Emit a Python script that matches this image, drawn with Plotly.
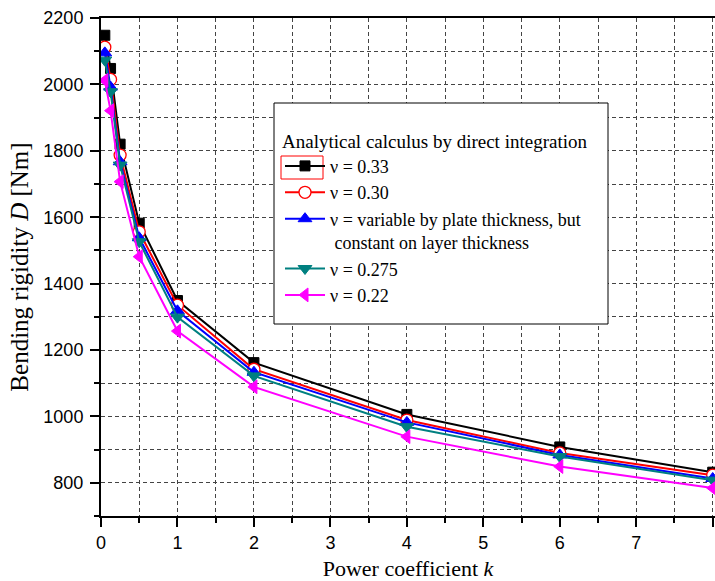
import plotly.graph_objects as go

# ---- data ----
k_values = [0.05, 0.125, 0.25, 0.5, 1, 2, 4, 6, 8]
D_nu_033 = [2148, 2048, 1820, 1582, 1349, 1162, 1006, 908, 832]
D_nu_030 = [2112, 2015, 1787, 1556, 1335, 1142, 989, 890, 823]
D_nu_var = [2095, 1992, 1767, 1538, 1318, 1133, 982, 884, 813]
D_nu_0275 = [2073, 1978, 1757, 1526, 1299, 1122, 969, 879, 808]
D_nu_022 = [2012, 1921, 1707, 1481, 1257, 1089, 939, 849, 784]

series_names = [
    "\u03bd = 0.33",
    "\u03bd = 0.30",
    "\u03bd = variable by plate thickness, but<br>\u00a0constant on layer thickness",
    "\u03bd = 0.275",
    "\u03bd = 0.22",
]
series_values = [D_nu_033, D_nu_030, D_nu_var, D_nu_0275, D_nu_022]
series_colors = ["#000000", "#ff0000", "#0000ff", "#008080", "#ff00ff"]
series_symbols = ["square", "circle-open", "triangle-up", "triangle-down", "triangle-left"]
series_sizes = [10, 12, 12, 12, 12]

x_ticks = [0, 1, 2, 3, 4, 5, 6, 7, 8]
y_ticks = [800, 1000, 1200, 1400, 1600, 1800, 2000, 2200]

W, H = 715, 581
L, R, T, B = 101, 0, 18, 65
PW, PH = W - L - R, H - T - B


def px_x(p):
    return (p - L) / PW


def px_y(p):
    return (H - B - p) / PH


fig = go.Figure()
for name, vals, col, sym, sz in zip(series_names, series_values, series_colors,
                                    series_symbols, series_sizes):
    marker = dict(symbol=sym, size=sz, color=col, line=dict(color=col, width=1))
    if sym == "circle-open":
        marker = dict(symbol="circle", size=sz, color="white",
                      line=dict(color=col, width=1.3))
    fig.add_trace(go.Scatter(
        x=k_values, y=vals, name=name, mode="lines+markers",
        line=dict(color=col, width=2), marker=marker,
    ))

grid_dash = "4px,3px"
fig.update_layout(
    width=W, height=H,
    margin=dict(l=L, r=R, t=T, b=B, pad=0),
    paper_bgcolor="white", plot_bgcolor="white",
    font=dict(family="Liberation Sans", size=18, color="black"),
    showlegend=True,
    legend=dict(
        x=px_x(280), y=px_y(123), xanchor="left", yanchor="top",
        bgcolor="rgba(0,0,0,0)", borderwidth=0,
        font=dict(family="Liberation Serif", size=18, color="black"),
        title=dict(text="Analytical calculus by direct integration",
                   font=dict(family="Liberation Serif", size=19, color="black")),
        valign="top", itemwidth=40,
    ),
    shapes=[
        # legend frame
        dict(type="rect", xref="paper", yref="paper",
             x0=px_x(274), x1=px_x(608), y0=px_y(324), y1=px_y(103),
             line=dict(color="black", width=1), fillcolor="white", layer="above"),
        # red selection frame around the first legend symbol
        dict(type="rect", xref="paper", yref="paper",
             x0=px_x(281), x1=px_x(323), y0=px_y(179), y1=px_y(156),
             line=dict(color="#ff0000", width=1), fillcolor="rgba(0,0,0,0)",
             layer="above"),
    ],
)

fig.update_xaxes(
    range=[0, 8.03], tickvals=x_ticks, ticktext=[str(v) for v in x_ticks],
    automargin=False,
    showline=True, linecolor="black", linewidth=2, mirror=True,
    ticks="outside", ticklen=9, tickwidth=2, tickcolor="black",
    ticklabelstandoff=0,
    showgrid=True, gridcolor="#444444", gridwidth=1, griddash=grid_dash,
    zeroline=False,
    minor=dict(dtick=0.5, tick0=0, ticks="outside", ticklen=5, tickwidth=2,
               tickcolor="black", showgrid=True, gridcolor="#444444",
               griddash=grid_dash, gridwidth=1),
    title=dict(text="Power coefficient <i>k</i>",
               font=dict(family="Liberation Serif", size=22, color="black"),
               standoff=10),
    tickfont=dict(family="Liberation Sans", size=18, color="black"),
)
fig.update_yaxes(
    range=[700, 2200], tickvals=y_ticks, ticktext=[str(v) for v in y_ticks],
    automargin=False,
    showline=True, linecolor="black", linewidth=2, mirror=True,
    ticks="outside", ticklen=9, tickwidth=2, tickcolor="black",
    ticklabelstandoff=3,
    showgrid=True, gridcolor="#444444", gridwidth=1, griddash=grid_dash,
    zeroline=False,
    minor=dict(dtick=100, tick0=700, ticks="outside", ticklen=5, tickwidth=2,
               tickcolor="black", showgrid=True, gridcolor="#444444",
               griddash=grid_dash, gridwidth=1),
    title=dict(text="Bending rigidity <i>D</i> [Nm]",
               font=dict(family="Liberation Serif", size=25, color="black"),
               standoff=8),
    tickfont=dict(family="Liberation Sans", size=18, color="black"),
)

fig.write_html(
    "out.html",
    config={"displayModeBar": False},
    post_script="document.body.style.margin='0';document.body.style.padding='0';",
)
